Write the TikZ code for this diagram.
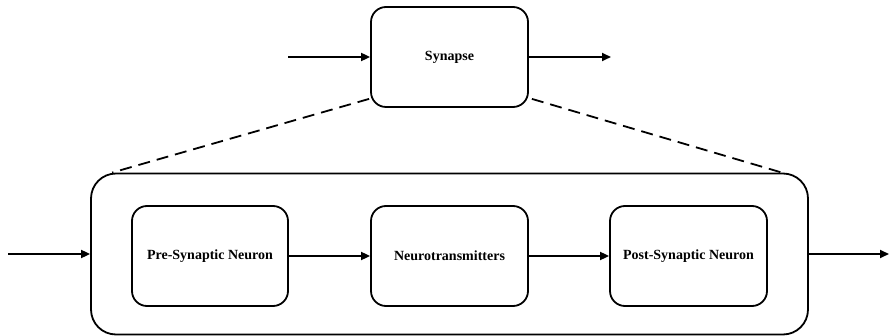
\documentclass[tikz,border=0pt]{standalone}
\usepackage{fontspec}
\setmainfont{Liberation Serif}
\usetikzlibrary{arrows.meta,calc}
\begin{document}
\begin{tikzpicture}[x=1pt,y=-1pt,
  box/.style={draw,line width=1.8pt,rounded corners=15pt,align=center,inner sep=0pt,
    font=\fontsize{14}{16}\selectfont\bfseries},
  arr/.style={line width=1.8pt,-{Triangle[length=9pt,width=8pt]}},
  dsh/.style={line width=1.8pt,dash pattern=on 12pt off 7pt}]
\useasboundingbox (0,0) rectangle (890,336);
\node[box,minimum width=157pt,minimum height=100pt] (syn) at (449.5,57) {Synapse};
\node[draw,line width=1.8pt,rounded corners=25pt,minimum width=717pt,minimum height=161pt,inner sep=0pt] (big) at (449.5,254) {};
\node[box,minimum width=156pt,minimum height=100pt] (pre) at (210,256) {Pre-Synaptic Neuron};
\node[box,minimum width=157pt,minimum height=100pt] (nt) at (449.5,256) {Neurotransmitters};
\node[box,minimum width=157pt,minimum height=100pt] (post) at (688.5,256) {Post-Synaptic Neuron};
\coordinate (sin) at (288,57);
\coordinate (sout) at (611,57);
\coordinate (bin) at (8,254);
\coordinate (bout) at (889,254);
\draw[arr] (sin) -- (syn.west);
\draw[arr] (syn.east) -- (sout);
\draw[arr] (bin) -- (big.west);
\draw[arr] (big.east) -- (bout);
\draw[arr] (pre.east) -- (nt.west);
\draw[arr] (nt.east) -- (post.west);
\draw[dsh] ($(syn.south west)+(-1,-9)$) -- ($(big.north west)+(22,0)$);
\draw[dsh] ($(syn.south east)+(3,-9)$) -- ($(big.north east)+(-27,0)$);
\end{tikzpicture}
\end{document}
